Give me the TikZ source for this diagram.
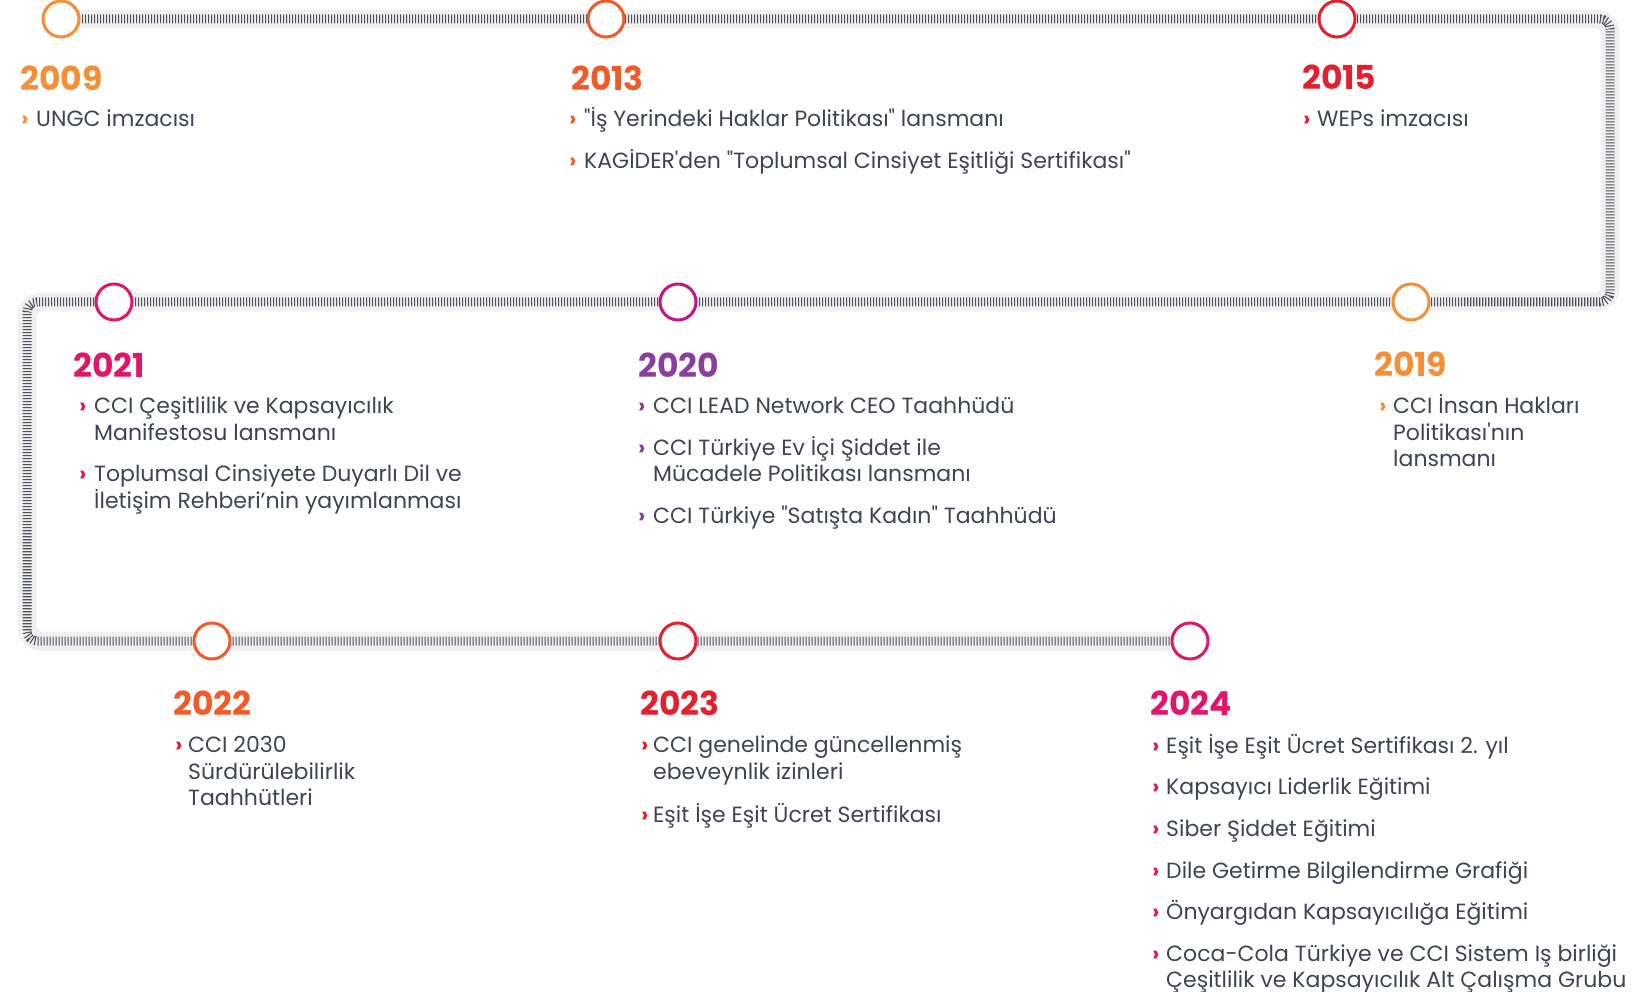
\documentclass[tikz,border=0pt]{standalone}
\usepackage{fontspec}
\setmainfont{Poppins}[Ligatures=TeXOff]
\definecolor{orL}{HTML}{F68E35}
\definecolor{orR}{HTML}{F15A29}
\definecolor{rdC}{HTML}{E4202E}
\definecolor{pkC}{HTML}{E0166B}
\definecolor{puY}{HTML}{8A3F9C}
\definecolor{puC}{HTML}{C0168C}
\definecolor{txtc}{HTML}{3E4455}
\definecolor{tickc}{HTML}{4B5060}
\definecolor{bandc}{HTML}{F0F0F1}
\tikzset{
  yr/.style={anchor=base west, inner sep=0pt, font=\bfseries\fontsize{33}{33}\selectfont},
  txt/.style={anchor=base west, inner sep=0pt, text=txtc, font=\fontsize{22}{27}\selectfont},
  chev/.style={anchor=base west, inner sep=0pt, font=\bfseries\fontsize{22}{27}\selectfont},
  dot/.style={circle, draw, line width=3pt, fill=white, minimum size=36pt, inner sep=0pt},
  band/.style={line width=19pt, draw=bandc, rounded corners=14pt},
  ticks/.style={line width=9pt, draw=tickc, dash pattern=on 1.1pt off 1.9pt, rounded corners=10pt},
}
\begin{document}
\begin{tikzpicture}[x=1pt,y=-1pt]
\useasboundingbox (0,0) rectangle (1633,992);
% track corner points
\coordinate (s) at (61,19);
\coordinate (k1) at (1610,19);
\coordinate (k2) at (1610,302);
\coordinate (k3) at (27,302);
\coordinate (k4) at (27,641);
\coordinate (e) at (1190,641);
\draw[band] (s) -- (k1) -- (k2) -- (k3) -- (k4) -- (e);
\draw[ticks] (s) -- (k1) -- (k2) -- (k3) -- (k4) -- (e);
% circles
\node[dot, draw=orL] (c09) at (s) {};
\node[dot, draw=orR] (c13) at (606,19) {};
\node[dot, draw=rdC] (c15) at (1337,19) {};
\node[dot, draw=orL] (c19) at (1411,302) {};
\node[dot, draw=puC] (c20) at (678,302) {};
\node[dot, draw=pkC] (c21) at (114,302) {};
\node[dot, draw=orR] (c22) at (212,641) {};
\node[dot, draw=rdC] (c23) at (678,641) {};
\node[dot, draw=pkC] (c24) at (e) {};
% 2009
\node[yr, text=orL] (y09) at (20,91) {2009};
\node[chev, text=orL] (h09a) at (21,127) {›};
\node[txt] (t09a) at (36,127) {UNGC imzacısı};
% 2013
\node[yr, text=orR] (y13) at (571,91) {2013};
\node[chev, text=orR] (h13a) at (569,127) {›};
\node[txt] (t13a) at (584,127) {"İş Yerindeki Haklar Politikası" lansmanı};
\node[chev, text=orR] (h13b) at (569,169) {›};
\node[txt] (t13b) at (584,169) {KAGİDER'den "Toplumsal Cinsiyet Eşitliği Sertifikası"};
% 2015
\node[yr, text=rdC] (y15) at (1302,90) {2015};
\node[chev, text=rdC] (h15a) at (1303,127) {›};
\node[txt] (t15a) at (1317,127) {WEPs imzacısı};
% 2021
\node[yr, text=pkC] (y21) at (73,377) {2021};
\node[chev, text=pkC] (h21a) at (79,413) {›};
\node[txt] (t21a) at (94,413) {CCI Çeşitlilik ve Kapsayıcılık};
\node[txt] (t21b) at (94,440) {Manifestosu lansmanı};
\node[chev, text=pkC] (h21c) at (79,481) {›};
\node[txt] (t21c) at (94,481) {Toplumsal Cinsiyete Duyarlı Dil ve};
\node[txt] (t21d) at (94,508) {İletişim Rehberi’nin yayımlanması};
% 2020
\node[yr, text=puY] (y20) at (638,377) {2020};
\node[chev, text=puY] (h20a) at (638,413) {›};
\node[txt] (t20a) at (653,413) {CCI LEAD Network CEO Taahhüdü};
\node[chev, text=puY] (h20b) at (638,455) {›};
\node[txt] (t20b) at (653,455) {CCI Türkiye Ev İçi Şiddet ile};
\node[txt] (t20c) at (653,481) {Mücadele Politikası lansmanı};
\node[chev, text=puY] (h20d) at (638,523) {›};
\node[txt] (t20d) at (653,523) {CCI Türkiye "Satışta Kadın" Taahhüdü};
% 2019
\node[yr, text=orL] (y19) at (1374,376) {2019};
\node[chev, text=orL] (h19a) at (1379,413) {›};
\node[txt] (t19a) at (1393,413) {CCI İnsan Hakları};
\node[txt] (t19b) at (1393,440) {Politikası'nın};
\node[txt] (t19c) at (1393,466) {lansmanı};
% 2022
\node[yr, text=orR] (y22) at (173,715) {2022};
\node[chev, text=rdC] (h22a) at (175,752) {›};
\node[txt] (t22a) at (188,752) {CCI 2030};
\node[txt] (t22b) at (188,779) {Sürdürülebilirlik};
\node[txt] (t22c) at (188,805) {Taahhütleri};
% 2023
\node[yr, text=rdC] (y23) at (640,715) {2023};
\node[chev, text=rdC] (h23a) at (641,752) {›};
\node[txt] (t23a) at (653,752) {CCI genelinde güncellenmiş};
\node[txt] (t23b) at (653,779) {ebeveynlik izinleri};
\node[chev, text=rdC] (h23c) at (641,822) {›};
\node[txt] (t23c) at (653,822) {Eşit İşe Eşit Ücret Sertifikası};
% 2024
\node[yr, text=pkC] (y24) at (1150,715) {2024};
\node[chev, text=pkC] (h24a) at (1152,753) {›};
\node[txt] (t24a) at (1166,753) {Eşit İşe Eşit Ücret Sertifikası 2. yıl};
\node[chev, text=pkC] (h24b) at (1152,794) {›};
\node[txt] (t24b) at (1166,794) {Kapsayıcı Liderlik Eğitimi};
\node[chev, text=pkC] (h24c) at (1152,836) {›};
\node[txt] (t24c) at (1166,836) {Siber Şiddet Eğitimi};
\node[chev, text=pkC] (h24d) at (1152,878) {›};
\node[txt] (t24d) at (1166,878) {Dile Getirme Bilgilendirme Grafiği};
\node[chev, text=pkC] (h24e) at (1152,919) {›};
\node[txt] (t24e) at (1166,919) {Önyargıdan Kapsayıcılığa Eğitimi};
\node[chev, text=pkC] (h24f) at (1152,961) {›};
\node[txt] (t24f) at (1166,961) {Coca-Cola Türkiye ve CCI Sistem Iş birliği};
\node[txt] (t24g) at (1166,987) {Çeşitlilik ve Kapsayıcılık Alt Çalışma Grubu};
\end{tikzpicture}
\end{document}
